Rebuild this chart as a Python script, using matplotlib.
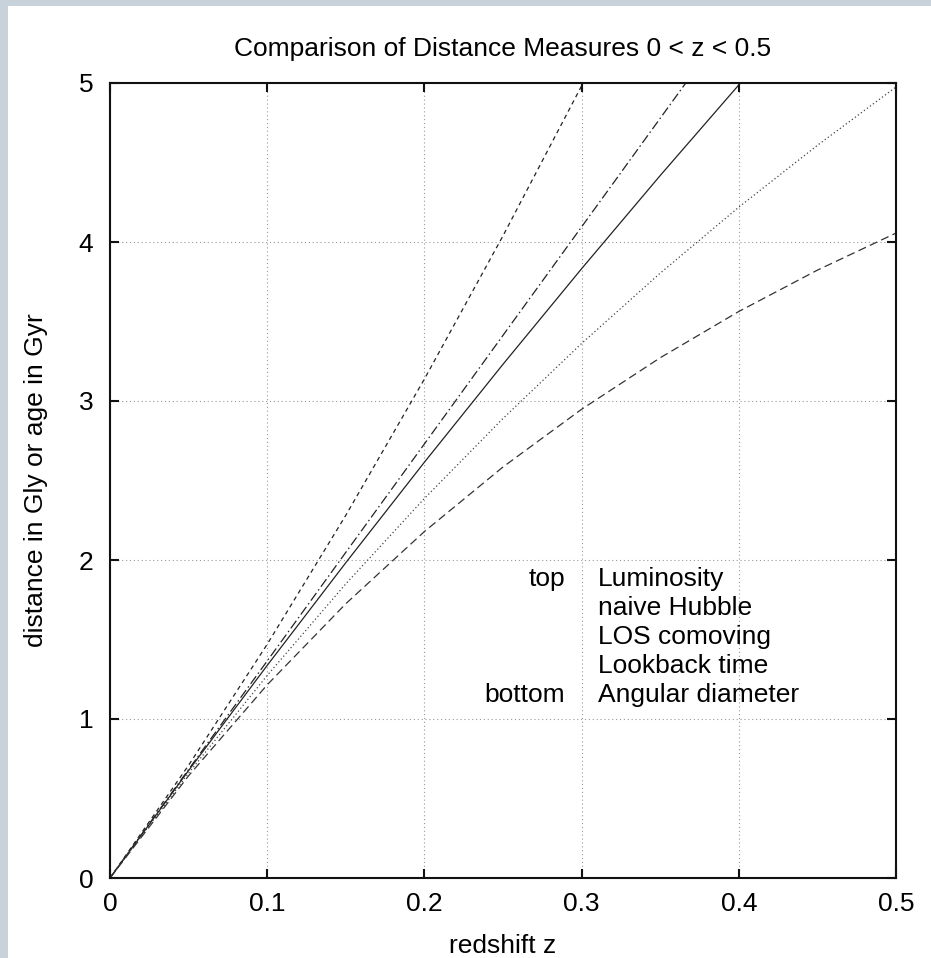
import matplotlib
matplotlib.use("Agg")
import matplotlib.pyplot as plt
from matplotlib.patches import Rectangle

plt.rcParams['font.family'] = ['Liberation Sans', 'DejaVu Sans']

# redshift samples
z = [0.0, 0.05, 0.10, 0.15, 0.20, 0.25, 0.30, 0.35, 0.40, 0.45, 0.50]

# distances in Gly / time in Gyr
luminosity = [0.0, 0.709, 1.470, 2.281, 3.138, 4.039, 4.982, 5.964, 6.983, 8.038, 9.125]
naive_hubble = [0.0, 0.683, 1.365, 2.048, 2.730, 3.413, 4.095, 4.778, 5.460, 6.143, 6.825]
los_comoving = [0.0, 0.676, 1.337, 1.983, 2.615, 3.231, 3.832, 4.418, 4.988, 5.543, 6.083]
lookback_time = [0.0, 0.660, 1.274, 1.850, 2.387, 2.890, 3.362, 3.804, 4.219, 4.608, 4.975]
angular_diameter = [0.0, 0.643, 1.215, 1.725, 2.179, 2.585, 2.948, 3.272, 3.563, 3.823, 4.056]

x_ticks = [0, 0.1, 0.2, 0.3, 0.4, 0.5]
x_tick_labels = ['0', '0.1', '0.2', '0.3', '0.4', '0.5']
y_ticks = [0, 1, 2, 3, 4, 5]
y_tick_labels = ['0', '1', '2', '3', '4', '5']

legend_order_left = ['top', '', '', '', 'bottom']
legend_names = ['Luminosity', 'naive Hubble', 'LOS comoving', 'Lookback time', 'Angular diameter']

W, H = 931, 958
fig = plt.figure(figsize=(W / 100, H / 100), dpi=100)
fig.patch.set_facecolor('white')
# page border strips
fig.patches.append(Rectangle((0, 1 - 6 / H), 1, 6 / H, transform=fig.transFigure,
                             facecolor='#c8d2da', edgecolor='none', zorder=-1))
fig.patches.append(Rectangle((0, 0), 8 / W, 1, transform=fig.transFigure,
                             facecolor='#c8d2da', edgecolor='none', zorder=-1))

ax = fig.add_axes([110 / W, 80 / H, 786 / W, 795 / H])

lc = '#222222'
ax.plot(z, luminosity, color=lc, lw=0.9, linestyle=(0, (3.5, 3.0)))
ax.plot(z, naive_hubble, color=lc, lw=0.9, linestyle=(0, (7.5, 2.5, 1.2, 2.5)))
ax.plot(z, los_comoving, color=lc, lw=0.9, linestyle='-')
ax.plot(z, lookback_time, color='#444444', lw=0.9, linestyle=(0, (1.0, 2.0)))
ax.plot(z, angular_diameter, color='#333333', lw=0.9, linestyle=(0, (6.5, 3.5)))

ax.set_xlim(0, 0.5)
ax.set_ylim(0, 5)
ax.set_xticks(x_ticks)
ax.set_xticklabels(x_tick_labels)
ax.set_yticks(y_ticks)
ax.set_yticklabels(y_tick_labels)

ax.grid(True, color='#999999', lw=0.8, linestyle=(0, (1.0, 2.5)))
ax.set_axisbelow(True)

for s in ax.spines.values():
    s.set_linewidth(1.5)
    s.set_color('#111111')

fs = 19
ax.tick_params(axis='both', which='major', direction='in', length=6.5, width=1.5,
               top=True, right=True, labelsize=fs, color='#111111')
ax.tick_params(axis='x', pad=10)
ax.tick_params(axis='y', pad=12)

ax.set_title('Comparison of Distance Measures 0 < z < 0.5', fontsize=fs, pad=19.5)
ax.set_xlabel('redshift z', fontsize=fs, labelpad=13)
ax.set_ylabel('distance in Gly or age in Gyr', fontsize=fs, labelpad=22)

y0 = 1.836
dy = 0.1823
for i, (a, b) in enumerate(zip(legend_order_left, legend_names)):
    yy = y0 - i * dy
    if a:
        ax.text(0.2894, yy, a, ha='right', va='baseline', fontsize=fs)
    ax.text(0.3104, yy, b, ha='left', va='baseline', fontsize=fs)

fig.savefig('out.png', dpi=100)
